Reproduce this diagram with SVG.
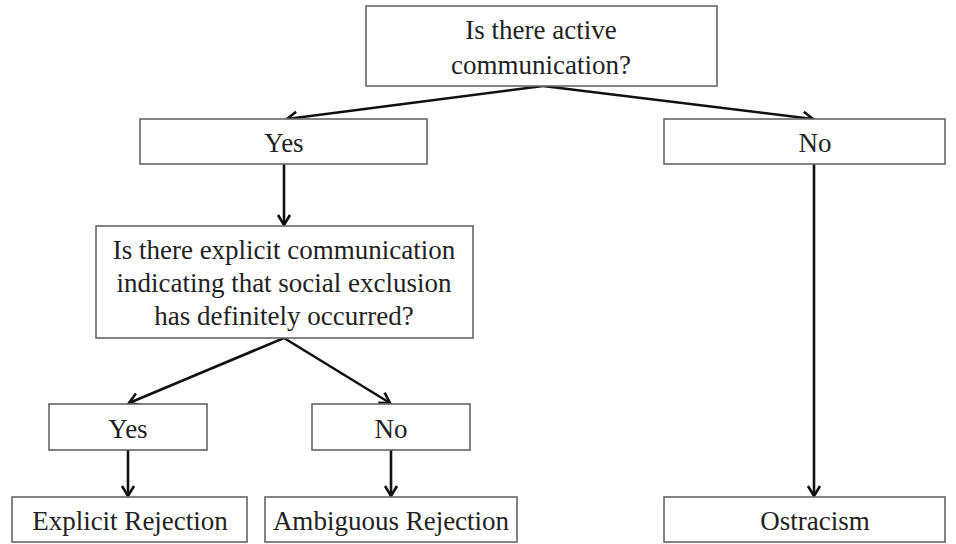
<svg xmlns="http://www.w3.org/2000/svg" width="956" height="544" viewBox="0 0 956 544">
<defs>
<marker id="ah" markerUnits="userSpaceOnUse" markerWidth="16" markerHeight="16" viewBox="-12 -8 14 16" refX="0" refY="0" orient="auto">
<polyline points="-10,-6 0,0 -10,6" fill="none" stroke="#111" stroke-width="2.6" stroke-linejoin="miter"/>
</marker>
</defs>
<style>
rect{fill:#fff;stroke:#666;stroke-width:1.6}
text{font-family:"Liberation Serif","Times New Roman",serif;font-size:27px;fill:#222;text-anchor:middle}
.c{stroke:#111;stroke-width:2.6;fill:none;marker-end:url(#ah)}
</style>
<rect x="0" y="0" width="956" height="544" style="fill:#fff;stroke:none"/>
<g id="connectors">
<line class="c" x1="543" y1="86" x2="287" y2="119"/>
<line class="c" x1="543" y1="86" x2="813" y2="119"/>
<line class="c" x1="284" y1="164" x2="284" y2="225"/>
<line class="c" x1="284" y1="338" x2="129" y2="403"/>
<line class="c" x1="284" y1="338" x2="390" y2="403"/>
<line class="c" x1="128" y1="450" x2="128" y2="496"/>
<line class="c" x1="391" y1="450" x2="391" y2="496"/>
<line class="c" x1="814" y1="164" x2="814" y2="496"/>
</g>
<g id="q1">
<rect x="366" y="6" width="351" height="80"/>
<text x="541" y="39">Is there active</text>
<text x="541" y="74">communication?</text>
</g>
<g id="yes1">
<rect x="140" y="119" width="287" height="45"/>
<text x="284" y="152">Yes</text>
</g>
<g id="no1">
<rect x="664" y="119" width="281" height="45"/>
<text x="815" y="152">No</text>
</g>
<g id="q2">
<rect x="96" y="226" width="377" height="112"/>
<text x="284" y="259">Is there explicit communication</text>
<text x="284" y="292">indicating that social exclusion</text>
<text x="284" y="325">has definitely occurred?</text>
</g>
<g id="yes2">
<rect x="49" y="404" width="158" height="46"/>
<text x="128" y="438">Yes</text>
</g>
<g id="no2">
<rect x="312" y="404" width="158" height="46"/>
<text x="391" y="438">No</text>
</g>
<g id="explicit">
<rect x="12" y="497" width="235" height="45"/>
<text x="130" y="530">Explicit Rejection</text>
</g>
<g id="ambiguous">
<rect x="265" y="497" width="252" height="45"/>
<text x="391" y="530">Ambiguous Rejection</text>
</g>
<g id="ostracism">
<rect x="664" y="497" width="281" height="45"/>
<text x="815" y="530">Ostracism</text>
</g>
</svg>
